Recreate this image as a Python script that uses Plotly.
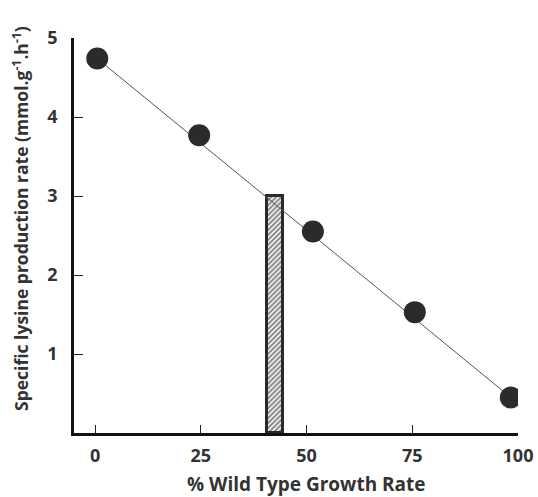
import plotly.graph_objects as go

growth_pct = [0.5, 24.6, 51.5, 75.6, 98.3]
lysine_rate = [4.74, 3.77, 2.55, 1.53, 0.45]
fit_x = [0.5, 98.3]
fit_y = [4.74, 0.45]
bar_x = [42.5]
bar_y = [3.0]
x_ticks = [0, 25, 50, 75, 100]
y_ticks = [1, 2, 3, 4, 5]

font_family = "Open Sans, Liberation Sans, sans-serif"
dark = "#333333"

fig = go.Figure()
fig.add_trace(go.Bar(
    x=bar_x, y=bar_y, width=3.8,
    marker=dict(color="white",
                line=dict(color="#2a2a2a", width=3),
                pattern=dict(shape="/", fgcolor="#1a1a1a", bgcolor="white",
                             size=3.5, solidity=0.6)),
    showlegend=False,
))
fig.add_trace(go.Scatter(
    x=fit_x, y=fit_y, mode="lines",
    line=dict(color="#555555", width=1), showlegend=False,
))
fig.add_trace(go.Scatter(
    x=growth_pct, y=lysine_rate, mode="markers",
    marker=dict(size=22, color="#2b2b2b"), showlegend=False,
))

tick_font = dict(size=18, family=font_family, color=dark, weight="bold")
fig.update_layout(
    width=538, height=497,
    margin=dict(l=74, r=20, t=38, b=64),
    plot_bgcolor="white", paper_bgcolor="white",
    font=dict(family=font_family, color=dark),
    xaxis=dict(range=[-5, 100], tickvals=x_ticks, ticks="inside", ticklen=8,
               tickwidth=1, tickcolor="#222", showline=True, linecolor="#111",
               linewidth=3, showgrid=False, zeroline=False, automargin=False,
               tickfont=tick_font, ticklabelstandoff=4),
    yaxis=dict(range=[0, 5], tickvals=y_ticks, ticks="inside", ticklen=9,
               tickwidth=1, tickcolor="#222", showline=True, linecolor="#111",
               linewidth=2.5, showgrid=False, zeroline=False, automargin=False,
               tickfont=tick_font, ticklabelstandoff=10),
    bargap=0,
)
fig.add_annotation(
    text="% Wild Type Growth Rate", xref="paper", yref="paper",
    x=0.523, y=-0.128, xanchor="center", yanchor="middle", showarrow=False,
    font=dict(size=19, family=font_family, color=dark, weight="bold"),
)
fig.add_annotation(
    text="Specific lysine production rate (mmol.g<sup>-1</sup>.h<sup>-1</sup>)",
    xref="paper", yref="paper", textangle=-90,
    x=-0.122, y=0.544, xanchor="center", yanchor="middle", showarrow=False,
    font=dict(size=17.5, family=font_family, color=dark, weight="bold"),
)

fig.write_html("out.html",
               config={"displayModeBar": False},
               post_script="document.body.style.margin='0';document.body.style.overflow='hidden';")
